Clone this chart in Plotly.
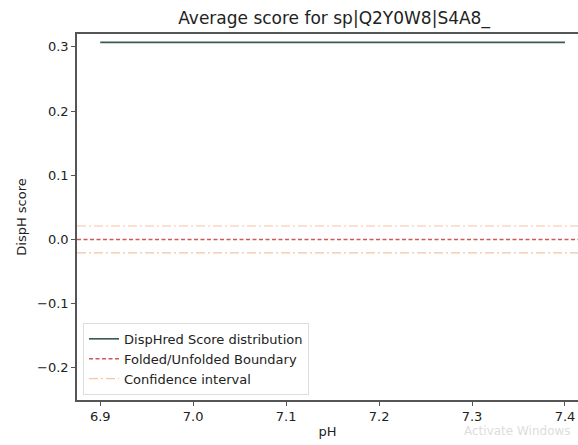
import plotly.graph_objects as go

ph_values = [6.9, 7.0, 7.1, 7.2, 7.3, 7.4]
disphred_scores = [0.307, 0.307, 0.307, 0.307, 0.307, 0.307]
boundary = 0.0
confidence = [0.021, -0.021]
x_ticks = [6.9, 7.0, 7.1, 7.2, 7.3, 7.4]
y_ticks = [-0.2, -0.1, 0.0, 0.1, 0.2, 0.3]

font = "DejaVu Sans"
fig = go.Figure()
fig.add_trace(go.Scatter(x=ph_values, y=disphred_scores, mode="lines",
                         line=dict(color="#3b5a52", width=1.6),
                         name="DispHred Score distribution"))
fig.add_shape(type="line", xref="x domain", yref="y", x0=0, x1=1, y0=boundary, y1=boundary,
              line=dict(color="#d2575a", width=1.5, dash="4px,2.5px"),
              name="Folded/Unfolded Boundary", showlegend=True)
for i, c in enumerate(confidence):
    fig.add_shape(type="line", xref="x domain", yref="y", x0=0, x1=1, y0=c, y1=c,
                  line=dict(color="#f5c4a4", width=1.2, dash="9px,3px,2px,3px"),
                  name="Confidence interval", showlegend=(i == 0), legendgroup="ci")

fig.update_layout(
    width=578, height=445,
    margin=dict(l=77, r=0, t=34, b=45, autoexpand=False),
    paper_bgcolor="white", plot_bgcolor="white",
    font=dict(family=font, size=13, color="#222"),
    title=dict(text="Average score for sp|Q2Y0W8|S4A8_", x=0.578, xanchor="center",
               y=0.96, yanchor="middle", font=dict(size=17, color="#222"), automargin=False),
    showlegend=True,
    legend=dict(x=0.012, y=0.014, xanchor="left", yanchor="bottom",
                bgcolor="rgba(255,255,255,0.8)", bordercolor="#ddd", borderwidth=1,
                font=dict(size=13, color="#222"), tracegroupgap=0, itemwidth=30),
)
fig.update_xaxes(range=[6.875, 7.414], tickvals=x_ticks, ticktext=[f"{v:.1f}" for v in x_ticks],
                 showgrid=False, zeroline=False, showline=True, linecolor="#555", linewidth=1.5,
                 mirror=True, ticks="outside", ticklen=4, tickcolor="#555", automargin=False,
                 title=dict(text="pH", standoff=4, font=dict(size=13)))
fig.update_yaxes(range=[-0.25, 0.32], tickvals=y_ticks,
                 ticktext=["\u22120.2", "\u22120.1", "0.0", "0.1", "0.2", "0.3"],
                 showgrid=False, zeroline=False, showline=True, linecolor="#555", linewidth=1.5,
                 mirror=True, ticks="outside", ticklen=4, tickcolor="#555", automargin=False,
                 title=dict(text="DispH score", standoff=8, font=dict(size=13)))
fig.add_annotation(text="Activate Windows", xref="paper", yref="paper", x=0.99, y=-0.085,
                   xanchor="right", yanchor="middle", showarrow=False,
                   font=dict(size=12, color="#dddddd"))
fig.write_html("out.html", config={"displayModeBar": False},
               post_script="document.body.style.margin='0px';")
